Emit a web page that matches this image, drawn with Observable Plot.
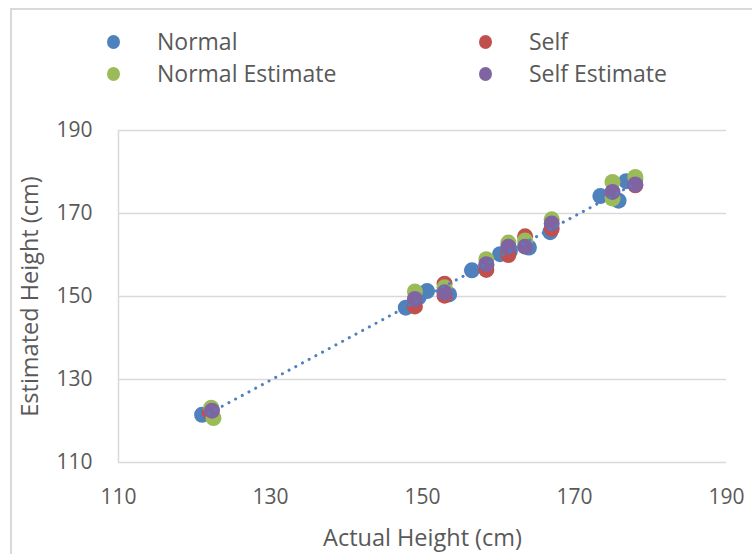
<!DOCTYPE html>
<html>
<head>
<meta charset="utf-8">
<script src="https://cdn.jsdelivr.net/npm/d3@7"></script>
<script src="https://cdn.jsdelivr.net/npm/@observablehq/plot@0.6"></script>
<style>
  html, body { margin: 0; padding: 0; background: #fff; width: 752px; height: 554px; overflow: hidden; }
  body { position: relative; font-family: "Open Sans", "Noto Sans", sans-serif; color: #595959; }
  #frame { position: absolute; left: 10px; top: 8px; width: 900px; height: 700px; border: 2px solid #d9d9d9; box-sizing: border-box; }
  #legend { position: absolute; left: 0; top: 0; width: 752px; height: 100px; font-size: 23px; }
  .item { position: absolute; display: flex; align-items: center; white-space: nowrap; }
  .sw { width: 13px; height: 14px; border-radius: 50%; display: inline-block; }
  .lab { position: absolute; left: 50px; top: 50%; transform: translateY(-54%); }
  #chart { position: absolute; left: 0; top: 100px; }
</style>
</head>
<body>
<div id="frame"></div>
<div id="legend"></div>
<div id="chart"></div>
<script>
// ---- data ----
const seriesNames = ["Normal", "Self", "Normal Estimate", "Self Estimate"];
const seriesColors = ["#4F81BD", "#C0504D", "#9BBB59", "#8064A2"];

const normalActual   = [121, 122, 147.8, 149.5, 150.6, 153.5, 156.5, 158.4, 160.2, 161.5, 164, 166.8, 173.4, 175.8, 176.8, 178];
const normalEstimate = [121.5, 122, 147.3, 149.8, 151.3, 150.5, 156.3, 157.5, 160.2, 161, 161.8, 165.5, 174.2, 173.1, 177.8, 178.3];

const selfActual   = [122, 149, 152.9, 152.9, 158.4, 161.3, 163.5, 167, 175, 178];
const selfEstimate = [122, 147.6, 153.1, 150.2, 156.4, 160, 164.5, 166.3, 174.5, 176.8];

const normEstActual   = [122.5, 122.2, 149, 152.9, 158.4, 161.3, 163.5, 167, 175, 175, 178];
const normEstEstimate = [120.7, 123.2, 151.2, 152.2, 159, 163, 163.5, 168.6, 177.6, 173.6, 178.8];

const selfEstActual   = [122.3, 149, 152.9, 158.4, 161.3, 163.5, 167, 175, 178];
const selfEstEstimate = [122.5, 149.4, 151, 157.8, 162, 162, 167.6, 175.2, 177];

const xTicks = [110, 130, 150, 170, 190];
const yTicks = [110, 130, 150, 170, 190];

// ---- build tables ----
const zip = (xs, ys, s) => xs.map((x, i) => ({x, y: ys[i], s}));
const series = [
  zip(normalActual, normalEstimate, seriesNames[0]),
  zip(selfActual, selfEstimate, seriesNames[1]),
  zip(normEstActual, normEstEstimate, seriesNames[2]),
  zip(selfEstActual, selfEstEstimate, seriesNames[3])
];

// linear trendline for Normal series (least squares)
const n = normalActual.length;
const mx = d3.mean(normalActual), my = d3.mean(normalEstimate);
let sxy = 0, sxx = 0;
for (let i = 0; i < n; i++) { sxy += (normalActual[i]-mx)*(normalEstimate[i]-my); sxx += (normalActual[i]-mx)**2; }
const slope = sxy / sxx, icpt = my - slope * mx;
const x0 = d3.min(normalActual), x1 = d3.max(normalActual);
const trend = [{x: x0, y: icpt + slope*x0}, {x: x1, y: icpt + slope*x1}];

// ---- legend ----
const legend = document.getElementById("legend");
const legPos = [[107, 42], [479, 42], [107, 74], [479, 74]];
seriesNames.forEach((name, i) => {
  const d = document.createElement("div");
  d.className = "item";
  d.style.left = legPos[i][0] + "px";
  d.style.top = (legPos[i][1] - 7) + "px";
  d.style.height = "14px";
  d.innerHTML = `<span class="sw" style="background:${seriesColors[i]}"></span><span class="lab">${name}</span>`;
  legend.appendChild(d);
});

// ---- chart ----
const chart = Plot.plot({
  width: 752,
  height: 454,
  marginLeft: 118,
  marginRight: 26,
  marginTop: 30,
  marginBottom: 92,
  style: {fontFamily: "'Open Sans', 'Noto Sans', sans-serif", fontSize: "21px", color: "#595959", background: "transparent"},
  x: {domain: [110, 190]},
  y: {domain: [110, 190]},
  marks: [
    Plot.gridY(yTicks, {stroke: "#d9d9d9", strokeOpacity: 1, strokeWidth: 1.5}),
    Plot.ruleX([110], {stroke: "#d9d9d9", strokeWidth: 1.5}),
    Plot.axisX(xTicks, {tickSize: 0, tickPadding: 27, fill: "#595959", label: null}),
    Plot.axisY(yTicks, {tickSize: 0, tickPadding: 26, fill: "#595959", label: null}),
    Plot.axisX({ticks: [], label: "Actual Height (cm)", labelAnchor: "center", labelArrow: "none", labelOffset: 83, fill: "#595959", fontSize: 23.5}),
    Plot.axisY({ticks: [], label: "Estimated Height (cm)", labelAnchor: "center", labelArrow: "none", labelOffset: 97, fill: "#595959", fontSize: 23.5}),
    ...series.map((data, i) => Plot.dot(data, {x: "x", y: "y", r: 8, fill: seriesColors[i], stroke: "none"})),
    Plot.line(trend, {x: "x", y: "y", stroke: "#4F81BD", strokeWidth: 3, strokeDasharray: "0.1,7.5", strokeLinecap: "round"})
  ]
});
document.getElementById("chart").appendChild(chart);
</script>
</body>
</html>
